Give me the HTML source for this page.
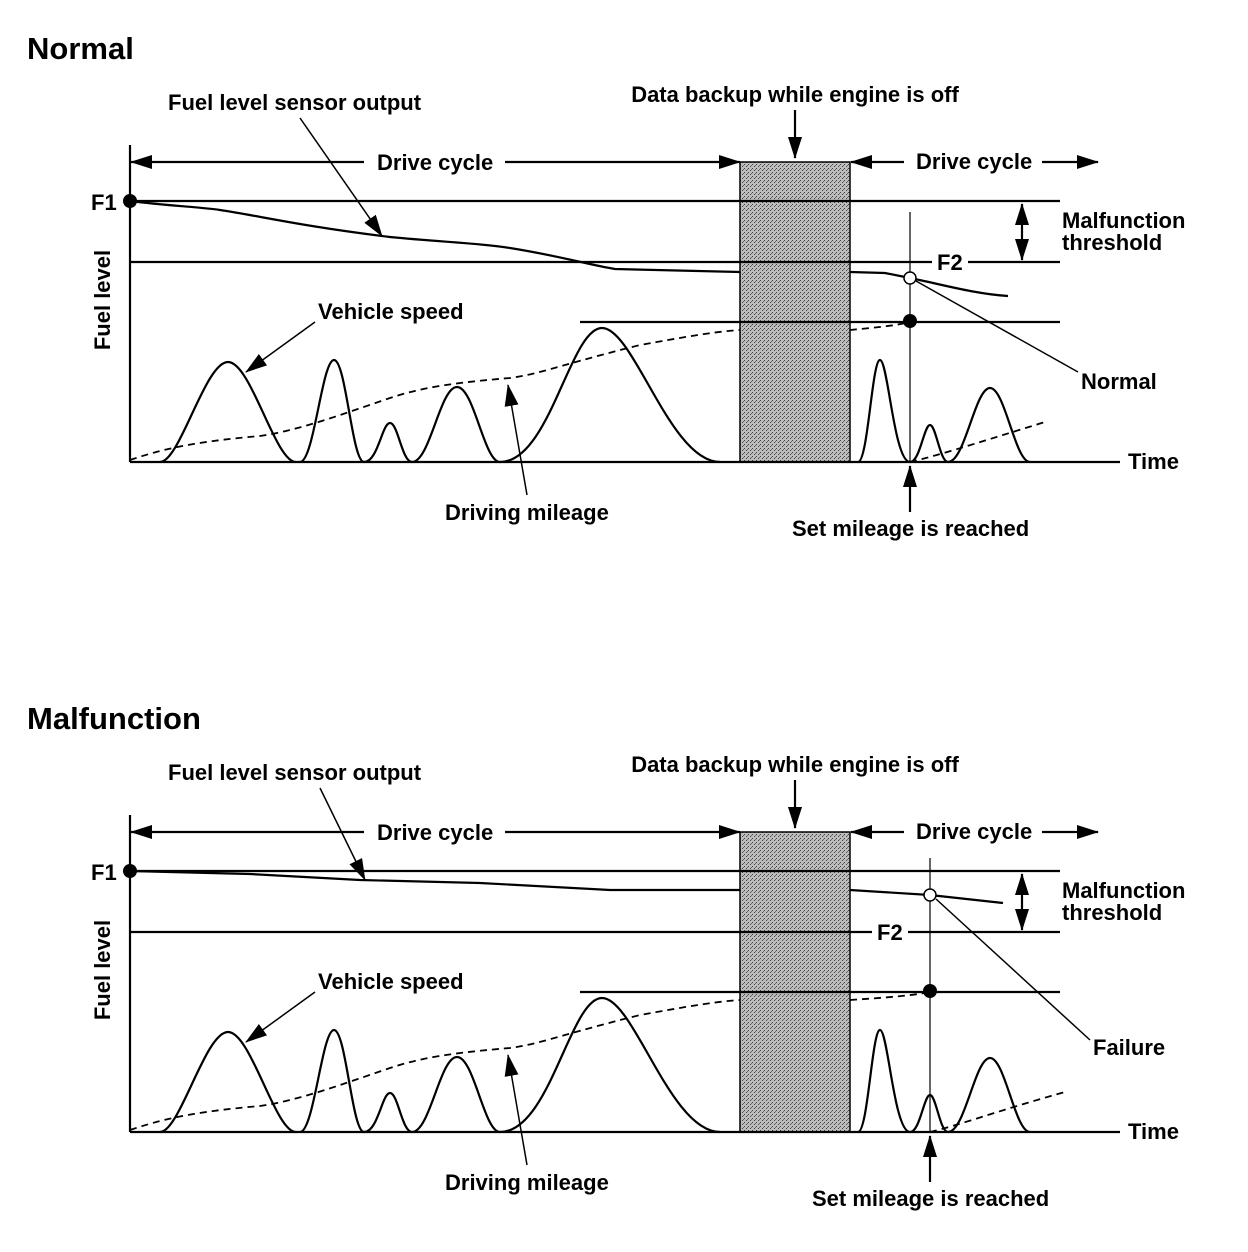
<!DOCTYPE html>
<html><head><meta charset="utf-8"><style>
html,body{margin:0;padding:0;background:#fff}
svg{display:block}
text{font-family:"Liberation Sans",Arial,sans-serif;font-weight:bold;font-size:22px;fill:#000}
</style></head><body>
<svg width="1248" height="1252" viewBox="0 0 1248 1252" xmlns="http://www.w3.org/2000/svg">
<defs>
<pattern id="st" width="4" height="4" patternUnits="userSpaceOnUse">
<rect width="4" height="4" fill="#bdbdbd"/><rect x="0" y="0" width="1" height="1" fill="#444"/><rect x="2" y="2" width="1" height="1" fill="#444"/><rect x="3" y="1" width="1" height="1" fill="#666"/>
</pattern>
<marker id="ah" markerWidth="22" markerHeight="14" refX="21" refY="7" orient="auto" markerUnits="userSpaceOnUse" viewBox="0 0 22 14"><path d="M0,0 L22,7 L0,14 z"/></marker>
<marker id="as" markerWidth="18" markerHeight="12" refX="17" refY="6" orient="auto" markerUnits="userSpaceOnUse" viewBox="0 0 18 12"><path d="M0,0 L18,6 L0,12 z"/></marker>
</defs>

<g id="top">
<text x="27" y="59" style="font-size:31px">Normal</text>
<rect x="740" y="162" width="110" height="300" fill="url(#st)" stroke="#000" stroke-width="1.5"/>
<g stroke="#000" stroke-width="2.2" fill="none">
<line x1="130" y1="145" x2="130" y2="462"/>
<line x1="130" y1="462" x2="1120" y2="462"/>
<line x1="130" y1="201" x2="1060" y2="201"/>
<line x1="130" y1="262" x2="932" y2="262"/><line x1="968" y1="262" x2="1060" y2="262"/>
<line x1="580" y1="322" x2="1060" y2="322"/>
<line x1="910" y1="212" x2="910" y2="462" stroke-width="1.2"/>
<path d="M130,201 C170,206 200,207 220,210 C260,216 300,226 390,237 C440,242 480,243 510,248 C560,256 590,265 615,269 L740,272"/>
<path d="M850,272 L885,273 L910,278 C940,284 975,294 1008,296"/>
<path d="M160,462 C180,462 205,362 228,362 C251,362 275,462 296,462"/>
<path d="M300,462 C314,462 322,360 334,360 C346,360 352,462 364,462"/>
<path d="M364,462 C378,462 382,423 390,423 C398,423 402,462 412,462"/>
<path d="M412,462 C430,462 440,387 457,387 C474,387 484,462 500,462"/>
<path d="M500,462 C550,462 570,328 602,328 C634,328 670,462 720,462"/>
<path d="M858,462 C868,462 872,360 880,360 C888,360 894,462 910,462"/>
<path d="M910,462 C920,462 924,425 930,425 C936,425 940,462 948,462"/>
<path d="M948,462 C965,462 975,388 990,388 C1005,388 1015,462 1030,462"/>
<path d="M130,460 C160,450 190,442 260,436 C300,430 340,415 390,398 C420,388 450,383 510,378 C540,374 560,365 640,345 C680,338 710,332 740,330" stroke-dasharray="7,5" stroke-width="1.8"/>
<path d="M850,330 C870,328 895,326 910,322" stroke-dasharray="7,5" stroke-width="1.8"/>
<path d="M910,462 C940,455 980,442 1045,422" stroke-dasharray="7,5" stroke-width="1.8"/>
<line x1="132" y1="162" x2="365" y2="162" marker-end="url(#ah)" transform="rotate(180 248 162)"/>
<line x1="505" y1="162" x2="740" y2="162" marker-end="url(#ah)"/>
<line x1="852" y1="162" x2="905" y2="162" transform="rotate(180 878 162)" marker-end="url(#ah)"/>
<line x1="1042" y1="162" x2="1098" y2="162" marker-end="url(#ah)"/>
<line x1="795" y1="110" x2="795" y2="158" marker-end="url(#ah)"/>
<line x1="1022" y1="230" x2="1022" y2="204" marker-end="url(#ah)"/>
<line x1="1022" y1="230" x2="1022" y2="260" marker-end="url(#ah)"/>
<line x1="300" y1="118" x2="382" y2="236" stroke-width="1.5" marker-end="url(#ah)"/>
<line x1="315" y1="322" x2="246" y2="372" stroke-width="1.5" marker-end="url(#ah)"/>
<line x1="527" y1="495" x2="508" y2="385" stroke-width="1.5" marker-end="url(#ah)"/>
<line x1="1078" y1="372" x2="916" y2="281" stroke-width="1.5"/>
<line x1="910" y1="512" x2="910" y2="466" marker-end="url(#ah)"/>
</g>
<circle cx="130" cy="201" r="7"/>
<circle cx="910" cy="321" r="7"/>
<circle cx="910" cy="278" r="6" fill="#fff" stroke="#000" stroke-width="1.5"/>
<text x="91" y="210">F1</text>
<text x="937" y="270">F2</text>
<text x="377" y="170">Drive cycle</text>
<text x="916" y="169">Drive cycle</text>
<text x="168" y="110">Fuel level sensor output</text>
<text x="795" y="102" text-anchor="middle">Data backup while engine is off</text>
<text x="318" y="319">Vehicle speed</text>
<text x="445" y="520">Driving mileage</text>
<text x="1081" y="389">Normal</text>
<text x="792" y="536">Set mileage is reached</text>
<text x="1062" y="228">Malfunction</text>
<text x="1062" y="250">threshold</text>
<text transform="translate(110,300) rotate(-90)" text-anchor="middle">Fuel level</text>
<text x="1128" y="469">Time</text>
</g>

<g transform="translate(0,670)">
<text x="27" y="59" style="font-size:31px">Malfunction</text>
<rect x="740" y="162" width="110" height="300" fill="url(#st)" stroke="#000" stroke-width="1.5"/>
<g stroke="#000" stroke-width="2.2" fill="none">
<line x1="130" y1="145" x2="130" y2="462"/>
<line x1="130" y1="462" x2="1120" y2="462"/>
<line x1="130" y1="201" x2="1060" y2="201"/>
<line x1="130" y1="262" x2="872" y2="262"/><line x1="908" y1="262" x2="1060" y2="262"/>
<line x1="580" y1="322" x2="1060" y2="322"/>
<line x1="930" y1="188" x2="930" y2="462" stroke-width="1.2"/>
<path d="M130,201 L250,204 L360,210 L480,213 L610,220 L740,220"/>
<path d="M850,220 L930,225 L1003,233"/>
<path d="M160,462 C180,462 205,362 228,362 C251,362 275,462 296,462"/>
<path d="M300,462 C314,462 322,360 334,360 C346,360 352,462 364,462"/>
<path d="M364,462 C378,462 382,423 390,423 C398,423 402,462 412,462"/>
<path d="M412,462 C430,462 440,387 457,387 C474,387 484,462 500,462"/>
<path d="M500,462 C550,462 570,328 602,328 C634,328 670,462 720,462"/>
<path d="M858,462 C868,462 872,360 880,360 C888,360 894,462 910,462"/>
<path d="M910,462 C920,462 924,425 930,425 C936,425 940,462 948,462"/>
<path d="M948,462 C965,462 975,388 990,388 C1005,388 1015,462 1030,462"/>
<path d="M130,460 C160,450 190,442 260,436 C300,430 340,415 390,398 C420,388 450,383 510,378 C540,374 560,365 640,345 C680,338 710,332 740,330" stroke-dasharray="7,5" stroke-width="1.8"/>
<path d="M850,330 C880,328 910,326 930,322" stroke-dasharray="7,5" stroke-width="1.8"/>
<path d="M930,462 C960,455 1000,440 1065,422" stroke-dasharray="7,5" stroke-width="1.8"/>
<line x1="132" y1="162" x2="365" y2="162" marker-end="url(#ah)" transform="rotate(180 248 162)"/>
<line x1="505" y1="162" x2="740" y2="162" marker-end="url(#ah)"/>
<line x1="852" y1="162" x2="905" y2="162" transform="rotate(180 878 162)" marker-end="url(#ah)"/>
<line x1="1042" y1="162" x2="1098" y2="162" marker-end="url(#ah)"/>
<line x1="795" y1="110" x2="795" y2="158" marker-end="url(#ah)"/>
<line x1="1022" y1="230" x2="1022" y2="204" marker-end="url(#ah)"/>
<line x1="1022" y1="230" x2="1022" y2="260" marker-end="url(#ah)"/>
<line x1="320" y1="118" x2="365" y2="210" stroke-width="1.5" marker-end="url(#ah)"/>
<line x1="315" y1="322" x2="246" y2="372" stroke-width="1.5" marker-end="url(#ah)"/>
<line x1="527" y1="495" x2="508" y2="385" stroke-width="1.5" marker-end="url(#ah)"/>
<line x1="1090" y1="370" x2="936" y2="229" stroke-width="1.5"/>
<line x1="930" y1="512" x2="930" y2="466" marker-end="url(#ah)"/>
</g>
<circle cx="130" cy="201" r="7"/>
<circle cx="930" cy="321" r="7"/>
<circle cx="930" cy="225" r="6" fill="#fff" stroke="#000" stroke-width="1.5"/>
<text x="91" y="210">F1</text>
<text x="877" y="270">F2</text>
<text x="377" y="170">Drive cycle</text>
<text x="916" y="169">Drive cycle</text>
<text x="168" y="110">Fuel level sensor output</text>
<text x="795" y="102" text-anchor="middle">Data backup while engine is off</text>
<text x="318" y="319">Vehicle speed</text>
<text x="445" y="520">Driving mileage</text>
<text x="1093" y="385">Failure</text>
<text x="812" y="536">Set mileage is reached</text>
<text x="1062" y="228">Malfunction</text>
<text x="1062" y="250">threshold</text>
<text transform="translate(110,300) rotate(-90)" text-anchor="middle">Fuel level</text>
<text x="1128" y="469">Time</text>
</g>
</svg>
</body></html>
